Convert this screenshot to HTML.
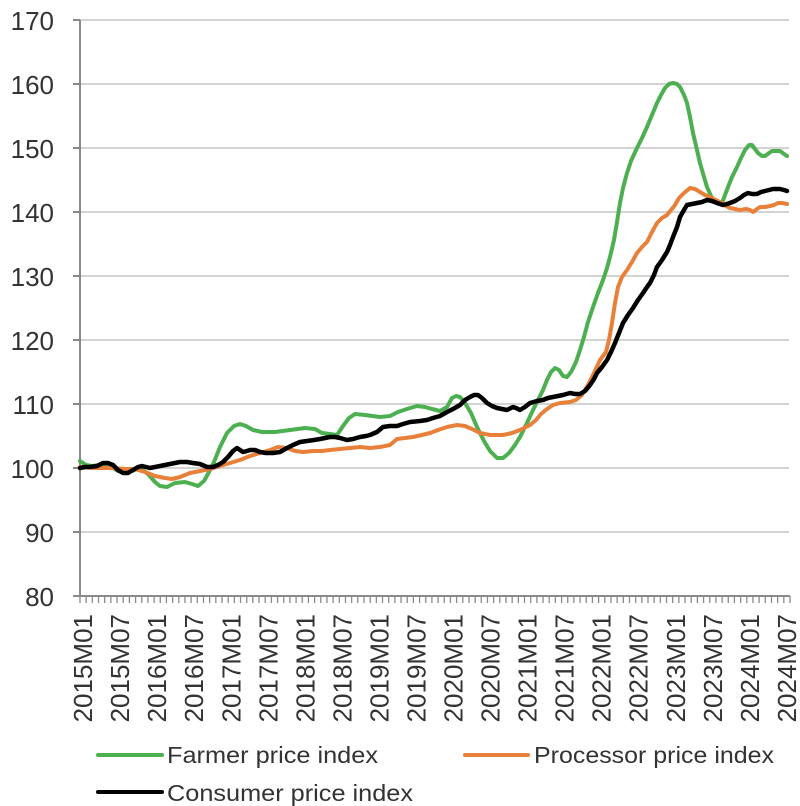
<!DOCTYPE html>
<html><head><meta charset="utf-8"><style>
html,body{margin:0;padding:0;background:#fff;}
svg{display:block;font-family:"Liberation Sans",sans-serif;}
</style></head><body>
<svg width="800" height="806" viewBox="0 0 800 806" xmlns="http://www.w3.org/2000/svg">
<g stroke="#d3d3d3" stroke-width="2">
<line x1="80" y1="20" x2="789" y2="20"/><line x1="80" y1="84" x2="789" y2="84"/><line x1="80" y1="148" x2="789" y2="148"/><line x1="80" y1="212" x2="789" y2="212"/><line x1="80" y1="276" x2="789" y2="276"/><line x1="80" y1="340" x2="789" y2="340"/><line x1="80" y1="404" x2="789" y2="404"/><line x1="80" y1="468" x2="789" y2="468"/><line x1="80" y1="532" x2="789" y2="532"/>
</g>
<g stroke="#8a8a8a" stroke-width="2">
<line x1="80" y1="20" x2="80" y2="597"/><line x1="79" y1="596" x2="790" y2="596"/>
<line x1="73" y1="20" x2="80" y2="20"/><line x1="73" y1="84" x2="80" y2="84"/><line x1="73" y1="148" x2="80" y2="148"/><line x1="73" y1="212" x2="80" y2="212"/><line x1="73" y1="276" x2="80" y2="276"/><line x1="73" y1="340" x2="80" y2="340"/><line x1="73" y1="404" x2="80" y2="404"/><line x1="73" y1="468" x2="80" y2="468"/><line x1="73" y1="532" x2="80" y2="532"/><line x1="73" y1="596" x2="80" y2="596"/>
</g>
<g id="xt" stroke="#8a8a8a" stroke-width="1.3"></g>
<g font-size="26" fill="#333" text-anchor="end">
<text x="54" y="30">170</text><text x="54" y="94">160</text><text x="54" y="158">150</text><text x="54" y="222">140</text><text x="54" y="286">130</text><text x="54" y="350">120</text><text x="54" y="414">110</text><text x="54" y="478">100</text><text x="54" y="542">90</text><text x="54" y="606">80</text>
</g>
<g id="xl" font-size="26" fill="#333" text-anchor="end"></g>
<g fill="none" stroke-linejoin="round" stroke-linecap="round">
<polyline stroke="#4caf50" stroke-width="4" points="80,461 86,465 92,466 100,465 110,466 118,471 124,473 132,471 140,468 148,474 155,482 160,486 167,487 175,483 185,482 192,484 198,486 204,481 209,472 214,462 220,447 227,433 234,426 240,424 246,426 253,430 262,432 275,432 290,430 305,428 315,429 322,433 330,434 337,435 343,426 349,418 355,414 365,415 380,417 390,416 398,412 407,409 417,406 425,407 432,409 440,411 447,407 452,398 456,396 460,397 465,403 471,413 477,427 484,441 490,451 497,458 503,458 509,453 515,445 520,437 527,423 533,410 538,400 543,390 547,380 551,372 555,368 559,370 563,376 567,377 571,372 576,362 580,350 584,337 588,322 593,307 598,293 603,280 607,268 610,257 614,240 617,222 620,203 623,188 627,173 631,161 637,148 642,138 647,127 652,115 657,103 661,95 665,88 669,84 673,83 677,84 680,87 684,95 687,103 690,117 693,133 697,150 700,163 704,177 707,187 711,196 715,202 719,204 722,203 725,195 728,187 732,177 737,167 741,158 745,150 749,145 752,145 755,149 758,153 762,156 765,156 769,153 772,151 776,151 780,151 784,154 787,156"/>
<polyline stroke="#e8803a" stroke-width="4" points="80,467 95,468 110,468 125,469 135,469 145,472 155,476 165,478 172,479 180,477 190,473 200,471 210,469 220,466 230,463 240,460 250,456 260,453 270,450 278,447 287,448 295,451 303,452 313,451 322,451 330,450 340,449 350,448 360,447 370,448 380,447 390,445 397,439 405,438 413,437 422,435 430,433 438,430 447,427 457,425 465,426 472,429 480,433 490,435 503,435 512,433 520,430 530,425 536,420 541,414 547,409 553,405 560,403 570,402 576,400 582,395 588,385 594,373 600,360 606,352 609,340 612,323 615,303 618,287 622,277 627,270 632,262 637,253 642,247 647,242 652,232 657,223 662,218 667,215 671,210 675,205 679,198 684,193 690,188 695,189 700,192 705,195 710,197 716,200 722,203 726,206 730,208 735,209 740,210 746,209 750,210 753,212 757,209 760,207 765,207 770,206 774,205 778,203 782,203 787,204"/>
<polyline stroke="#000" stroke-width="4.5" points="80,468 85,467 90,467 97,466 103,463 108,463 113,465 118,470 123,473 128,473 133,470 138,467 142,466 146,467 150,468 155,467 160,466 165,465 170,464 175,463 180,462 187,462 193,463 200,464 207,467 213,467 218,465 223,462 228,457 233,451 237,448 240,450 243,452 247,451 250,450 255,450 260,452 266,453 273,453 280,452 287,448 293,445 300,442 307,441 314,440 320,439 325,438 330,437 335,437 340,438 347,440 353,439 360,437 366,436 370,435 377,432 383,427 390,426 397,426 403,424 410,422 420,421 427,420 433,418 440,416 447,412 453,409 460,405 465,400 470,397 474,395 478,395 482,398 487,403 492,406 497,408 502,409 507,410 513,407 516,408 520,410 525,407 530,403 537,401 543,400 548,398 553,397 558,396 563,395 570,393 575,394 580,394 585,391 590,385 594,379 597,373 602,367 607,360 611,352 615,343 619,333 623,323 628,315 633,308 638,300 643,293 647,287 650,283 654,275 657,267 662,260 667,252 670,245 673,237 677,227 680,217 684,210 687,205 692,204 697,203 702,202 707,200 712,201 717,203 723,205 727,204 730,203 735,201 740,198 744,195 748,193 752,194 757,194 761,192 765,191 769,190 773,189 777,189 780,189 784,190 787,191"/>
</g>
<g stroke-width="4" stroke-linecap="round">
<line x1="98" y1="755" x2="162" y2="755" stroke="#4caf50"/>
<line x1="465" y1="755" x2="528" y2="755" stroke="#e8803a"/>
<line x1="98" y1="792" x2="162" y2="792" stroke="#000"/>
</g>
<g font-size="23" fill="#333">
<text x="167" y="763" textLength="211" lengthAdjust="spacingAndGlyphs">Farmer price index</text>
<text x="534" y="763" textLength="240" lengthAdjust="spacingAndGlyphs">Processor price index</text>
<text x="167" y="801" textLength="246" lengthAdjust="spacingAndGlyphs">Consumer price index</text>
</g>
<script>
(function(){
var ns="http://www.w3.org/2000/svg",w=710/115;
var xt=document.getElementById("xt");
for(var i=0;i<=115;i++){var x=80+i*w;var l=document.createElementNS(ns,"line");l.setAttribute("x1",x);l.setAttribute("x2",x);l.setAttribute("y1",596);l.setAttribute("y2",603);xt.appendChild(l);}
var xl=document.getElementById("xl");
for(var m=0;m<=114;m+=6){var y=2015+Math.floor(m/12);var mm=(m%12==0)?"01":"07";var cx=80+(m+0.5)*w+9;var t=document.createElementNS(ns,"text");t.setAttribute("x",cx);t.setAttribute("y",614);t.setAttribute("transform","rotate(-90 "+cx+" 614)");t.textContent=y+"M"+mm;xl.appendChild(t);}
})();
</script>
</svg>
</body></html>
